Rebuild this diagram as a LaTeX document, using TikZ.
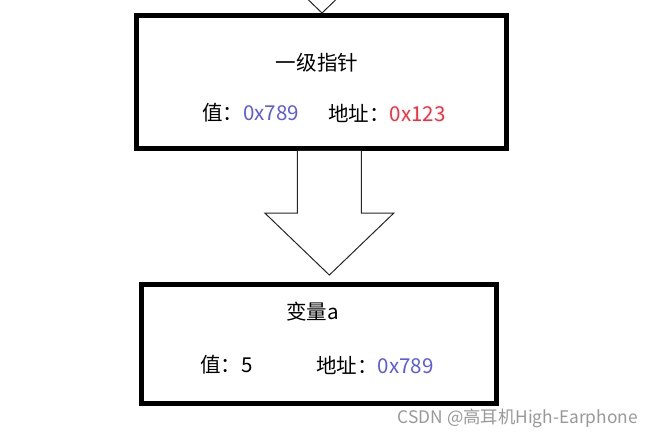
\documentclass[tikz,border=0pt]{standalone}
\usepackage{fontspec}
\setmainfont{Noto Sans CJK SC}
\usetikzlibrary{%
  calc,%
  positioning}

\definecolor{valblue}{RGB}{90,90,230}
\definecolor{addrred}{RGB}{255,43,58}

\begin{document}
\begin{tikzpicture}
  [x=0.75pt,y=-0.75pt,
   memory/.style={rectangle,draw=black,line width=3.75pt,fill=white,inner sep=0pt},
   title/.style={font=\fontsize{15.4pt}{18pt}\selectfont,inner sep=0pt},
   field/.style={title,anchor=west},
   hollow arrow/.style={draw=black!85,line width=0.75pt,fill=white,line join=miter},
   watermark/.style={font=\fontsize{13pt}{15pt}\selectfont,text=black!40,inner sep=0pt,anchor=east}]

  \clip (0,0) rectangle (670,438);
  \fill[white] (0,0) rectangle (670,438);

  % boxes
  \node [memory,minimum width=277.5pt,minimum height=99.75pt] (ptr) at (321.5,82) {};
  \node [memory,minimum width=266.6pt,minimum height=89.6pt]  (var) [below=97.9pt of ptr,xshift=-2pt] {};

  % arrow into the pointer box
  \coordinate (ttip) at ($(ptr.north)+(0.5,0)$);
  \draw [hollow arrow] ($(ttip)+(-32,-140)$) -- ($(ttip)+(-32,-62)$) -- ($(ttip)+(-64.5,-62)$)
    -- (ttip) -- ($(ttip)+(64.5,-62)$) -- ($(ttip)+(32,-62)$) -- ($(ttip)+(32,-140)$);

  % arrow from pointer to variable
  \coordinate (mtip) at ($(var.north)+(10.5,-6.5)$);
  \draw [hollow arrow] ($(mtip|-ptr.south)+(-32,0)$) -- ($(mtip)+(-32,-62)$) -- ($(mtip)+(-64.5,-62)$)
    -- (mtip) -- ($(mtip)+(64.5,-62)$) -- ($(mtip)+(32,-62)$) -- ($(mtip|-ptr.south)+(32,0)$);

  % texts
  \node [title] (ptrtitle) at (317,63)    {一级指针};
  \node [field] (ptrval)   at (202,113)   {值：\textcolor{valblue}{0x789}};
  \node [field] (ptraddr)  at (328,113)   {地址：\textcolor{addrred}{0x123}};

  \node [title] (vartitle) at (312.7,312) {变量a};
  \node [field] (varval)   at (200,365)   {值：5};
  \node [field] (varaddr)  at (316,365)   {地址：\textcolor{valblue}{0x789}};

  \node [watermark] (mark) at (638,418) {CSDN @高耳机High-Earphone};

\end{tikzpicture}
\end{document}
